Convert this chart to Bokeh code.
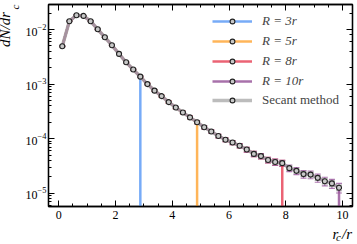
import numpy as np
from bokeh.plotting import figure
from bokeh.models import (ColumnDataSource, Whisker, TeeHead, Legend, LegendItem,
                          LinearAxis, LogAxis, Range1d, Label, Title, FixedTicker, LogTicker)
from bokeh.embed import file_html
from bokeh.resources import INLINE

# ---- data ----
rc = [0.125 + 0.25 * k for k in range(40)]
dNdr = [4.94e-3, 1.42e-2, 1.83e-2, 1.78e-2, 1.42e-2, 1.01e-2, 7.23e-3, 5.15e-3,
        3.58e-3, 2.51e-3, 1.85e-3, 1.37e-3, 1.00e-3, 7.59e-4, 6.03e-4, 4.68e-4,
        3.72e-4, 3.02e-4, 2.45e-4, 2.00e-4, 1.62e-4, 1.35e-4, 1.12e-4, 9.55e-5,
        8.51e-5, 7.41e-5, 6.31e-5, 5.25e-5, 4.79e-5, 4.07e-5, 3.72e-5, 3.55e-5,
        2.88e-5, 2.57e-5, 2.24e-5, 2.19e-5, 1.91e-5, 1.66e-5, 1.51e-5, 1.26e-5]
rel_err = [0.012, 0.008, 0.007, 0.007, 0.008, 0.009, 0.011, 0.013, 0.015, 0.018,
           0.021, 0.024, 0.028, 0.032, 0.036, 0.04, 0.045, 0.05, 0.055, 0.06,
           0.065, 0.07, 0.075, 0.08, 0.085, 0.09, 0.10, 0.11, 0.11, 0.12,
           0.13, 0.13, 0.14, 0.15, 0.16, 0.16, 0.17, 0.18, 0.19, 0.20]
series_names = ["R = 3r", "R = 5r", "R = 8r", "R = 10r"]
series_last_rc = [2.875, 4.875, 7.875, 9.875]
series_colors = ["#5f9cf6", "#ffa83c", "#e8485c", "#99589b"]
secant_name = "Secant method"
secant_color = "#a6a6a6"

xticks = [0, 2, 4, 6, 8, 10]

FONT = "Liberation Serif"
W, H = 357, 244
FL = 48    # frame left edge (px)
FB = 206   # frame bottom edge (px)

p = figure(width=W, height=H, output_backend="svg", toolbar_location=None,
           y_axis_type="log", x_range=Range1d(-0.36, 10.35),
           y_range=Range1d(5.7e-6, 2.88e-2),
           min_border_left=FL, min_border_right=5, min_border_top=4,
           min_border_bottom=38)
p.grid.visible = False
p.outline_line_color = "black"
p.outline_line_width = 1.3
p.background_fill_color = "white"
p.border_fill_color = "white"

def style_axis(ax, labels=True, standoff=4):
    ax.axis_line_color = "black"
    ax.axis_line_width = 1.3
    ax.major_tick_in = 6
    ax.major_tick_out = 0
    ax.minor_tick_in = 3
    ax.minor_tick_out = 0
    ax.major_tick_line_color = "black"
    ax.minor_tick_line_color = "black"
    ax.major_label_text_font = FONT
    ax.major_label_text_font_size = "12px" if labels else "1px"
    ax.major_label_text_color = "black" if labels else None
    ax.major_label_standoff = standoff if labels else 0

xticker = FixedTicker(ticks=xticks, minor_ticks=[i * 0.5 for i in range(-1, 22)])
p.xaxis.ticker = xticker
style_axis(p.xaxis[0])
style_axis(p.yaxis[0], standoff=2)

top = LinearAxis(ticker=xticker)
style_axis(top, labels=False)
p.add_layout(top, "above")
right = LogAxis(ticker=LogTicker())
style_axis(right, labels=False)
p.add_layout(right, "right")

legend_renderers = []
for name, last, col in zip(series_names, series_last_rc, series_colors):
    n = rc.index(last) + 1
    xs = rc[:n] + [rc[n - 1]]
    ys = dNdr[:n] + [1e-12]
    r1 = p.line(xs, ys, line_color=col, line_width=2.5, line_alpha=0.85)
    src = ColumnDataSource(dict(x=rc[:n],
                                lo=[v * (1 - e) for v, e in zip(dNdr[:n], rel_err[:n])],
                                hi=[v * (1 + e) for v, e in zip(dNdr[:n], rel_err[:n])]))
    w = Whisker(source=src, base="x", lower="lo", upper="hi", dimension="height",
                line_color=col, line_width=1.2, line_alpha=0.8)
    w.upper_head = TeeHead(size=6, line_color=col, line_width=1.2, line_alpha=0.8)
    w.lower_head = TeeHead(size=6, line_color=col, line_width=1.2, line_alpha=0.8)
    p.add_layout(w)
    legend_renderers.append((name, col, r1))

rs = p.line(rc, dNdr, line_color=secant_color, line_width=3.5, line_alpha=0.75)
src_s = ColumnDataSource(dict(x=rc,
                              lo=[v * (1 - 0.6 * e) for v, e in zip(dNdr, rel_err)],
                              hi=[v * (1 + 0.6 * e) for v, e in zip(dNdr, rel_err)]))
ws = Whisker(source=src_s, base="x", lower="lo", upper="hi", dimension="height",
             line_color=secant_color, line_width=1.2)
ws.upper_head = TeeHead(size=6, line_color=secant_color, line_width=1.2)
ws.lower_head = TeeHead(size=6, line_color=secant_color, line_width=1.2)
p.add_layout(ws)
dots = p.scatter(rc, dNdr, marker="circle", size=5, fill_color="#c8c8c8",
                 line_color="#222222", line_width=1.1)

common = dict(orientation="vertical", glyph_width=40, glyph_height=12,
              label_height=12, spacing=4, padding=0, margin=0,
              label_standoff=10, label_text_font=FONT, label_text_font_size="13px",
              border_line_alpha=0, background_fill_alpha=0)
leg1 = Legend(items=[LegendItem(label=n, renderers=[r, dots]) for n, c, r in legend_renderers],
              location=(164, 117), label_text_font_style="italic", **common)
leg2 = Legend(items=[LegendItem(label=secant_name, renderers=[rs, dots])],
              location=(164, 98), **common)
p.add_layout(leg1)
p.add_layout(leg2)

def txt(text, x, y, size, angle=0.0, align="left"):
    return Label(x=x, y=y, x_units="screen", y_units="screen", text=text,
                 text_font=FONT, text_font_size=size, text_font_style="italic",
                 angle=angle, text_align=align, text_baseline="middle",
                 text_color="black")

# left panel: subscripts (bands next to the axis), then the y title outermost
p.add_layout(txt("c", 4, FB - 4, "11px", angle=np.pi / 2, align="right"), "left")
p.add_layout(txt("c", 333, FB - 236, "11px", align="center"), "left")
ytitle = Title(text="dN/dr  ", align="right", vertical_align="top", text_font=FONT,
               text_font_size="15px", text_font_style="italic", text_color="black",
               standoff=-18)
p.add_layout(ytitle, "left")

# bottom panel: x label text
p.add_layout(txt("r  /r", 284, 4, "15px"), "below")

open("out.html", "w").write(file_html(p, INLINE))
